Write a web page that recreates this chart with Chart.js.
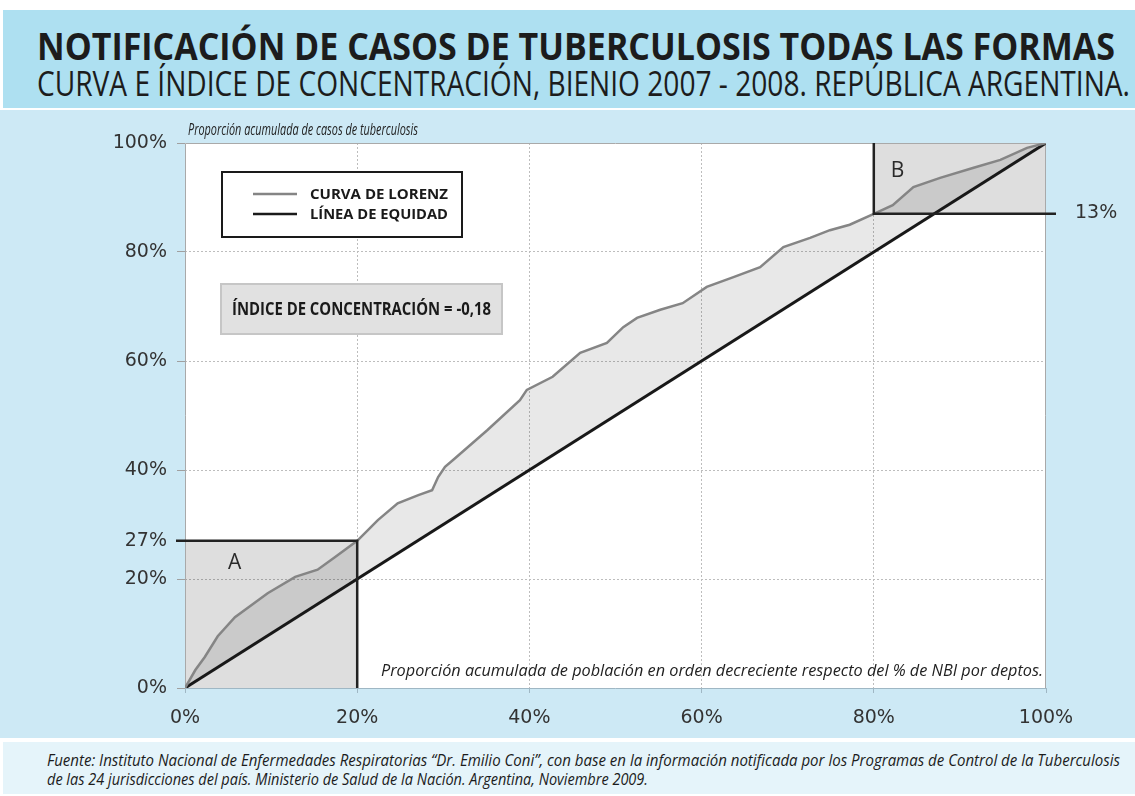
<!DOCTYPE html>
<html>
<head>
<meta charset="utf-8">
<script src="https://cdn.jsdelivr.net/npm/chart.js@4"></script>
<style>
  body { margin: 0; width: 1135px; height: 796px; background: #fff; overflow: hidden; font-family: "Open Sans", sans-serif; }
  .band { position: absolute; left: 3px; width: 1132px; }
  #head { top: 10px; height: 98px; background: #aee0f1; }
  #wrap { position: absolute; left: 0; top: 110px; width: 1135px; height: 628px; background: #cde9f5; }
  #foot { top: 742px; height: 52px; background: #e5f4fa; }
  .fit { position: absolute; white-space: nowrap; line-height: 1; transform-origin: 0 0; color: #1c1c1c; }
</style>
</head>
<body>
<div id="head" class="band">
  <div class="fit" data-w="1078" style="left:34px;top:16px;font-size:38px;font-weight:700;">NOTIFICACIÓN DE CASOS DE TUBERCULOSIS TODAS LAS FORMAS</div>
  <div class="fit" data-w="1093" style="left:34px;top:56px;font-size:34px;">CURVA E ÍNDICE DE CONCENTRACIÓN, BIENIO 2007 - 2008. REPÚBLICA ARGENTINA.</div>
</div>
<div id="wrap"><canvas id="myChart"></canvas></div>
<div id="foot" class="band">
  <div class="fit" data-w="1073" style="left:44px;top:10px;font-size:16px;font-style:italic;">Fuente: Instituto Nacional de Enfermedades Respiratorias “Dr. Emilio Coni”, con base en la información notificada por los Programas de Control de la Tuberculosis</div>
  <div class="fit" data-w="601" style="left:44px;top:29px;font-size:16px;font-style:italic;">de las 24 jurisdicciones del país. Ministerio de Salud de la Nación. Argentina, Noviembre 2009.</div>
</div>
<script>
// Lorenz curve (% of population, % of cases)
const lorenzX = [0, 1.2, 2.3, 3.8, 5.8, 9.6, 12.8, 15.4, 17.4, 20.0, 22.4, 24.7, 27.1, 28.7, 29.4, 30.2, 31.1, 35.1, 38.9, 39.7, 42.7, 45.9, 49.0, 50.9, 52.5, 55.2, 57.8, 60.6, 63.7, 66.8, 69.5, 72.6, 74.9, 77.2, 80.0, 82.2, 84.6, 87.7, 91.5, 94.7, 97.8, 100];
const lorenzY = [0, 3.3, 5.7, 9.5, 13.0, 17.4, 20.4, 21.7, 24.0, 27.0, 30.8, 33.9, 35.4, 36.3, 38.7, 40.6, 41.8, 47.3, 52.8, 54.7, 57.1, 61.5, 63.3, 66.2, 67.9, 69.4, 70.6, 73.6, 75.4, 77.2, 80.9, 82.6, 84.0, 85.0, 87.0, 88.6, 91.9, 93.6, 95.4, 96.9, 99.1, 100];
const equityX = [0, 100];
const equityY = [0, 100];
const yTicks = [0, 20, 27, 40, 60, 80, 100];
const gridValues = [20, 40, 60, 80];
// box A: first 20% of population holds 27% of cases; box B: last 20% holds 13%
const boxA = { x: [0, 20], y: [0, 27] };
const boxB = { x: [80, 100], y: [87, 100] };
const boxBLabel = "13%";
const indexLabel = "ÍNDICE DE CONCENTRACIÓN = -0,18";

// squeeze the title/footer lines to the reference widths
document.querySelectorAll(".fit").forEach(el => {
  const w = el.getBoundingClientRect().width;
  el.style.transform = "scaleX(" + (el.dataset.w / w) + ")";
});

function fitText(ctx, text, x, y, w) {
  const m = ctx.measureText(text).width;
  ctx.save();
  ctx.translate(x, y);
  ctx.scale(w / m, 1);
  ctx.fillText(text, 0, 0);
  ctx.restore();
}

const decor = {
  id: "decor",
  beforeDraw(chart) {
    const { ctx, chartArea: a } = chart;
    ctx.save();
    ctx.fillStyle = "#fff";
    ctx.fillRect(a.left, a.top, a.right - a.left, a.bottom - a.top);
    ctx.restore();
  },
  beforeDatasetsDraw(chart) {
    const { ctx, chartArea: a, scales: { x, y } } = chart;
    ctx.save();
    ctx.fillStyle = "rgba(0,0,0,0.13)";
    [boxA, boxB].forEach(b => {
      const x0 = x.getPixelForValue(b.x[0]), x1 = x.getPixelForValue(b.x[1]);
      const y0 = y.getPixelForValue(b.y[0]), y1 = y.getPixelForValue(b.y[1]);
      ctx.fillRect(x0, y1, x1 - x0, y0 - y1);
    });
    ctx.lineWidth = 1;
    ctx.strokeStyle = "#a9a9a9";
    ctx.beginPath();
    ctx.moveTo(a.left + 0.5, a.bottom);
    ctx.lineTo(a.left + 0.5, a.top + 0.5);
    ctx.lineTo(a.right - 0.5, a.top + 0.5);
    ctx.lineTo(a.right - 0.5, a.bottom);
    ctx.stroke();
    ctx.strokeStyle = "#9fb7c4";
    ctx.beginPath();
    ctx.moveTo(a.left, a.bottom + 0.5);
    ctx.lineTo(a.right, a.bottom + 0.5);
    ctx.stroke();
    ctx.restore();
  },
  afterDatasetsDraw(chart) {
    const { ctx, chartArea: a, scales: { x, y } } = chart;
    ctx.save();
    // box outlines
    ctx.strokeStyle = "#222";
    ctx.lineWidth = 2.5;
    ctx.beginPath();
    ctx.moveTo(a.left - 9, y.getPixelForValue(boxA.y[1]));
    ctx.lineTo(x.getPixelForValue(boxA.x[1]), y.getPixelForValue(boxA.y[1]));
    ctx.lineTo(x.getPixelForValue(boxA.x[1]), y.getPixelForValue(boxA.y[0]));
    ctx.moveTo(x.getPixelForValue(boxB.x[0]), y.getPixelForValue(boxB.y[1]));
    ctx.lineTo(x.getPixelForValue(boxB.x[0]), y.getPixelForValue(boxB.y[0]));
    ctx.lineTo(a.right + 10, y.getPixelForValue(boxB.y[0]));
    ctx.stroke();

    ctx.fillStyle = "#2a2a2a";
    ctx.font = "21px 'Open Sans'";
    ctx.fillText("A", x.getPixelForValue(boxA.x[0]) + 43, y.getPixelForValue(boxA.y[1]) + 28);
    ctx.fillText("B", x.getPixelForValue(boxB.x[0]) + 17, y.getPixelForValue(boxB.y[1]) + 34);
    ctx.font = "19px 'DejaVu Sans'";
    ctx.fillStyle = "#333";
    ctx.textBaseline = "middle";
    ctx.fillText(boxBLabel, a.right + 29, y.getPixelForValue(boxB.y[0]) - 1);
    ctx.textBaseline = "alphabetic";

    // axis captions
    ctx.fillStyle = "#222";
    ctx.font = "italic 16px 'Open Sans'";
    fitText(ctx, "Proporción acumulada de casos de tuberculosis", a.left + 3, a.top - 8, 230);
    ctx.font = "italic 17px 'Open Sans'";
    fitText(ctx, "Proporción acumulada de población en orden decreciente respecto del % de NBI por deptos.", a.right - 665, a.bottom - 12, 662);

    // legend box
    const lx = a.left + 37, ly = a.top + 29;
    ctx.fillStyle = "#fff";
    ctx.fillRect(lx, ly, 240, 65);
    ctx.strokeStyle = "#1a1a1a";
    ctx.lineWidth = 2;
    ctx.strokeRect(lx, ly, 240, 65);
    ctx.font = "bold 15px 'Open Sans'";
    chart.data.datasets.forEach((ds, i) => {
      const yy = ly + 22 + i * 20;
      ctx.strokeStyle = ds.borderColor;
      ctx.lineWidth = 2.5;
      ctx.beginPath();
      ctx.moveTo(lx + 31, yy);
      ctx.lineTo(lx + 75, yy);
      ctx.stroke();
      ctx.fillStyle = "#1a1a1a";
      fitText(ctx, ds.label, lx + 88, yy + 5, 138);
    });

    // concentration index box
    const bx = a.left + 36, by = a.top + 141;
    ctx.fillStyle = "#e1e1e1";
    ctx.fillRect(bx, by, 281, 50);
    ctx.strokeStyle = "#c6c6c6";
    ctx.lineWidth = 2;
    ctx.strokeRect(bx, by, 281, 50);
    ctx.fillStyle = "#1a1a1a";
    ctx.font = "bold 17px 'Open Sans'";
    fitText(ctx, indexLabel, bx + 11, by + 31, 259);
    ctx.restore();
  }
};

const ctx = document.getElementById("myChart").getContext("2d");

new Chart(ctx, {
  type: "line",
  data: {
    datasets: [
      {
        label: "CURVA DE LORENZ",
        data: lorenzX.map((v, i) => ({ x: v, y: lorenzY[i] })),
        borderColor: "#858585",
        borderWidth: 2.5,
        fill: "+1",
        backgroundColor: "rgba(0,0,0,0.09)",
        pointRadius: 0,
        tension: 0,
      },
      {
        label: "LÍNEA DE EQUIDAD",
        data: equityX.map((v, i) => ({ x: v, y: equityY[i] })),
        borderColor: "#1a1a1a",
        borderWidth: 3,
        fill: false,
        pointRadius: 0,
      },
    ],
  },
  options: {
    responsive: true,
    maintainAspectRatio: false,
    animation: false,
    layout: { padding: { top: 33, right: 89, left: 0, bottom: 0 } },
    plugins: {
      legend: { display: false },
      tooltip: { enabled: false },
    },
    scales: {
      x: {
        type: "linear",
        min: 0,
        max: 100,
        afterFit: (s) => { s.height = 50; },
        ticks: {
          stepSize: 20,
          color: "#333",
          padding: 14,
          font: { family: "DejaVu Sans", size: 19 },
          callback: (v) => v + "%",
        },
        grid: {
          color: (c) => (c.tick && gridValues.includes(c.tick.value) ? "#bdbdbd" : "transparent"),
          borderDash: [2, 2],
          tickColor: "#9fb7c4",
          tickLength: 5,
          tickBorderDash: [],
        },
        border: { display: false, dash: [2, 2] },
      },
      y: {
        min: 0,
        max: 100,
        afterFit: (s) => { s.width = 185; },
        afterBuildTicks: (s) => { s.ticks = yTicks.map((v) => ({ value: v })); },
        ticks: {
          color: "#333",
          padding: 10,
          font: { family: "DejaVu Sans", size: 19 },
          callback: (v) => v + "%",
        },
        grid: {
          color: (c) => (c.tick && gridValues.includes(c.tick.value) ? "#bdbdbd" : "transparent"),
          borderDash: [2, 2],
          tickColor: "#a0a0a0",
          tickLength: 8,
          tickBorderDash: [],
        },
        border: { display: false, dash: [2, 2] },
      },
    },
  },
  plugins: [decor],
});
</script>
</body>
</html>
